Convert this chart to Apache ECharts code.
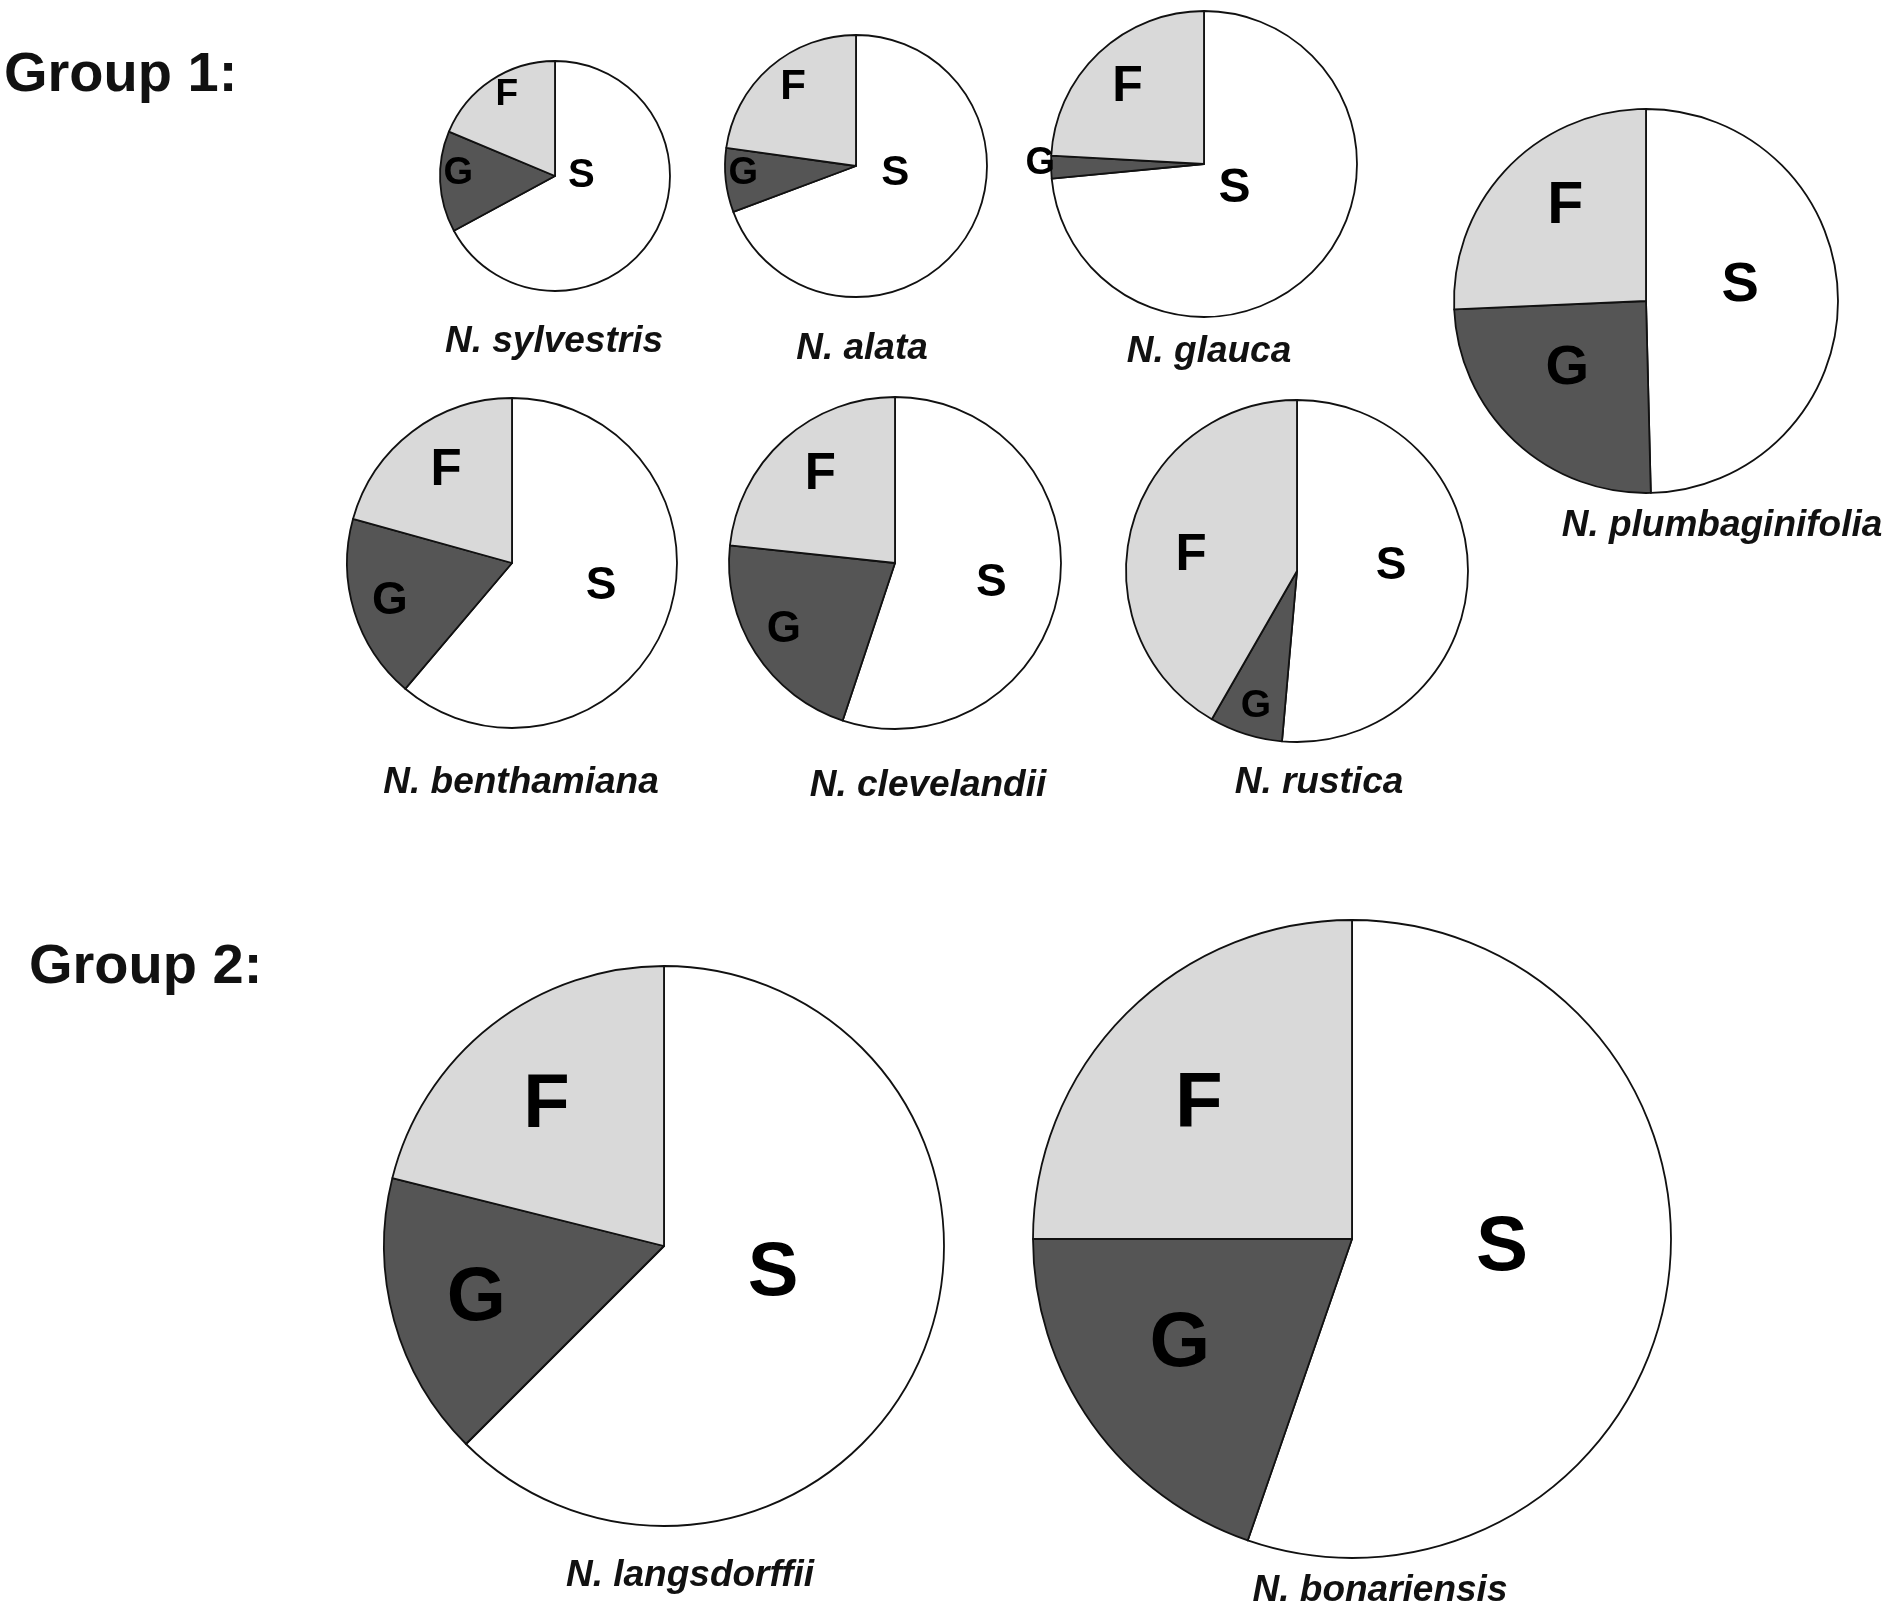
<!DOCTYPE html>
<html>
<head>
<meta charset="utf-8">
<script src="https://cdn.jsdelivr.net/npm/echarts@6/dist/echarts.min.js"></script>
<style>
  html, body { margin: 0; padding: 0; background: #fff; }
  #main { width: 1900px; height: 1621px; }
</style>
</head>
<body>
<div id="main"></div>
<script>
// values, percent of each pie
var species = ['N. sylvestris', 'N. alata', 'N. glauca', 'N. plumbaginifolia',
  'N. benthamiana', 'N. clevelandii', 'N. rustica', 'N. langsdorffii', 'N. bonariensis'];
var sliceNames = ['S', 'G', 'F'];
var sValues = [67.1, 69.3, 73.4, 49.6, 61.2, 55.1, 51.4, 62.5, 55.3];
var gValues = [14.2, 7.9, 2.4, 24.7, 18.1, 21.6, 6.9, 16.4, 19.7];
var fValues = [18.7, 22.8, 24.1, 25.7, 20.7, 23.3, 41.7, 21.1, 25.0];
var groupTitles = ['Group 1:', 'Group 2:'];

// layout: pie centre, radius, letter size, where the species name sits
var pieLayout = [
  { c: [555, 176], r: 115, fs: 40, name: [554, 342] },
  { c: [856, 166], r: 131, fs: 42, name: [862, 349] },
  { c: [1204, 164], r: 153, fs: 48, name: [1209, 352] },
  { c: [1646, 301], r: 192, fs: 56, name: [1722, 526] },
  { c: [512, 563], r: 165, fs: 46, name: [521, 783] },
  { c: [895, 563], r: 166, fs: 46, name: [928, 786] },
  { c: [1297, 571], r: 171, fs: 46, name: [1319, 783] },
  { c: [664, 1246], r: 280, fs: 76, name: [690, 1576] },
  { c: [1352, 1239], r: 319, fs: 78, name: [1380, 1591] }
];
// letter offsets inside each pie, as fraction of radius, order S, G, F
var letterPos = [
  [[0.23, 0.0], [-0.84, -0.02], [-0.42, -0.71]],
  [[0.30, 0.06], [-0.86, 0.06], [-0.48, -0.60]],
  [[0.20, 0.16], [-1.07, 0.0], [-0.50, -0.50]],
  [[0.49, -0.08], [-0.41, 0.35], [-0.42, -0.49]],
  [[0.54, 0.14], [-0.74, 0.23], [-0.40, -0.56]],
  [[0.58, 0.12], [-0.67, 0.40], [-0.45, -0.53]],
  [[0.55, -0.03], [-0.24, 0.79], [-0.62, -0.09]],
  [[0.39, 0.10], [-0.67, 0.19], [-0.42, -0.50]],
  [[0.47, 0.03], [-0.54, 0.33], [-0.48, -0.42]]
];
// relative letter size, order S, G, F
var letterScale = [
  [1, 0.95, 0.92], [1, 0.9, 1], [1, 0.8, 1.05], [1, 1, 1.05],
  [1, 1, 1.1], [1, 0.95, 1.1], [1, 0.85, 1.1], [1, 1, 1], [1, 1, 1]
];
var groupPos = [[4, 76], [29, 968]];

var sliceColors = ['#ffffff', '#555555', '#d9d9d9'];

var chart = echarts.init(document.getElementById('main'), null, { renderer: 'canvas' });

var series = species.map(function (name, i) {
  var L = pieLayout[i];
  var vals = [sValues[i], gValues[i], fValues[i]];
  return {
    type: 'pie',
    name: name,
    center: L.c,
    radius: L.r,
    startAngle: 90,
    clockwise: true,
    avoidLabelOverlap: false,
    silent: true,
    data: sliceNames.map(function (n, k) {
      return {
        name: n,
        value: vals[k],
        itemStyle: { color: sliceColors[k] },
        label: { fontSize: Math.round(L.fs * letterScale[i][k]) }
      };
    }),
    itemStyle: { borderColor: '#111', borderWidth: 1.8 },
    label: {
      show: true,
      position: 'inside',
      formatter: '{b}',
      color: '#000',
      fontFamily: 'Liberation Sans',
      fontWeight: 'bold',
      fontSize: L.fs
    },
    labelLine: { show: false },
    labelLayout: function (p) {
      var off = letterPos[i][p.dataIndex];
      return {
        x: L.c[0] + off[0] * L.r,
        y: L.c[1] + off[1] * L.r,
        align: 'center',
        verticalAlign: 'middle'
      };
    }
  };
});

var graphics = [];
species.forEach(function (name, i) {
  graphics.push({
    type: 'text',
    x: pieLayout[i].name[0],
    y: pieLayout[i].name[1],
    style: {
      text: name,
      align: 'center',
      verticalAlign: 'middle',
      font: 'italic bold 37px "Liberation Sans"',
      fill: '#111'
    }
  });
});
groupTitles.forEach(function (t, i) {
  graphics.push({
    type: 'text',
    x: groupPos[i][0],
    y: groupPos[i][1],
    style: {
      text: t,
      align: 'left',
      verticalAlign: 'middle',
      font: 'bold 56px "Liberation Sans"',
      fill: '#111'
    }
  });
});

chart.setOption({
  backgroundColor: '#fff',
  animation: false,
  series: series,
  graphic: graphics
});
</script>
</body>
</html>
